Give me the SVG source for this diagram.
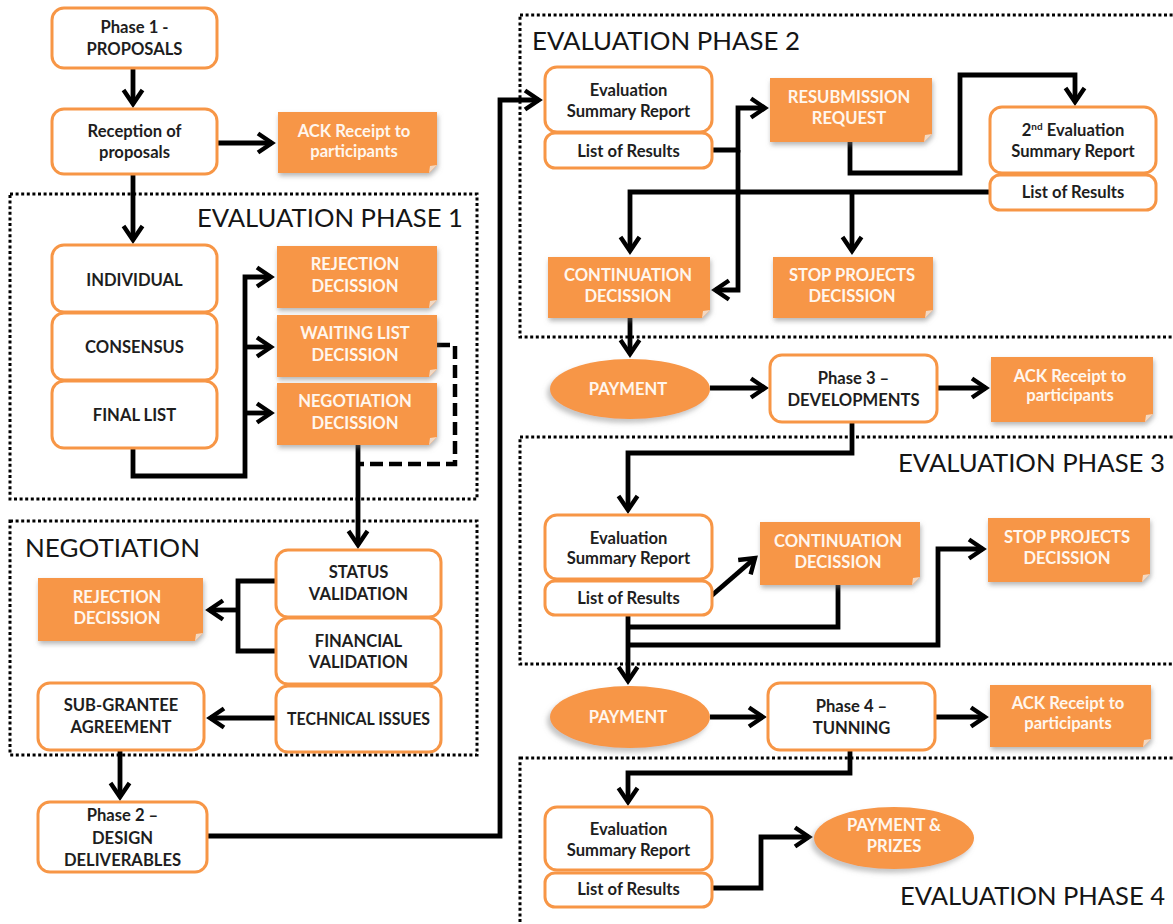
<svg xmlns="http://www.w3.org/2000/svg" width="1173" height="924" viewBox="0 0 1173 924">
<style>
.wb{fill:#fff;stroke:#F79646;stroke-width:3}
.ob{fill:#F79646;filter:url(#sh)}
.el{fill:#F79646;filter:url(#esh)}
.fold{fill:#f2d9c4}
.t{font-family:Lato,'Liberation Sans',sans-serif;font-weight:700;font-size:16.6px;fill:#1e1e1e;text-anchor:middle}
.tw{font-family:Lato,'Liberation Sans',sans-serif;font-weight:700;font-size:16.6px;fill:#fff6ee;text-anchor:middle}
.ttl{font-family:Lato,'Liberation Sans',sans-serif;font-weight:400;font-size:25.6px;fill:#151515}
.c{fill:none;stroke:#000;stroke-width:4.8;stroke-linejoin:miter}
.a{marker-end:url(#ah)}
.dash{fill:none;stroke:#000;stroke-width:4.5;stroke-dasharray:13 6}
.dot{fill:none;stroke:#000;stroke-width:3;stroke-dasharray:3 2.6}
</style>
<defs>
<filter id="sh" x="-10%" y="-15%" width="120%" height="140%">
<feDropShadow dx="1" dy="3" stdDeviation="2.5" flood-color="#7a7a7a" flood-opacity="0.55"/>
</filter>
<filter id="esh" x="-15%" y="-20%" width="130%" height="150%">
<feDropShadow dx="-3" dy="4" stdDeviation="2.5" flood-color="#8a8a8a" flood-opacity="0.5"/>
</filter>
<marker id="ah" viewBox="-20 -14 26 28" refX="0" refY="0" markerWidth="26" markerHeight="28" markerUnits="userSpaceOnUse" orient="auto" overflow="visible">
<path d="M-14,-9.5 L0,0 L-14,9.5" fill="none" stroke="#000" stroke-width="4.4" stroke-linejoin="miter"/>
</marker>
</defs>

<g id="regions">
<rect class="dot" x="10" y="194" width="467" height="305"/>
<rect class="dot" x="10" y="521" width="467" height="234"/>
<rect class="dot" x="520" y="15" width="680" height="322"/>
<rect class="dot" x="520" y="437" width="680" height="227"/>
<rect class="dot" x="520" y="758" width="680" height="200"/>
<text class="ttl" x="197" y="227" textLength="266" lengthAdjust="spacingAndGlyphs">EVALUATION PHASE 1</text>
<text class="ttl" x="25" y="557" textLength="175" lengthAdjust="spacingAndGlyphs">NEGOTIATION</text>
<text class="ttl" x="532" y="50" textLength="268" lengthAdjust="spacingAndGlyphs">EVALUATION PHASE 2</text>
<text class="ttl" x="898" y="472" textLength="267" lengthAdjust="spacingAndGlyphs">EVALUATION PHASE 3</text>
<text class="ttl" x="900" y="905" textLength="265" lengthAdjust="spacingAndGlyphs">EVALUATION PHASE 4</text>
</g>

<g id="connectors">
<path class="c a" d="M133,68 V104"/>
<path class="c a" d="M217,143 H272"/>
<path class="c a" d="M133,174 V240"/>
<path class="c a" d="M133,448 V476 H245 V277 H271"/>
<path class="c a" d="M245,347 H271"/>
<path class="c a" d="M245,413 H271"/>
<path class="dash" d="M437,345 H455 V464 H358"/>
<path class="c a" d="M358,445 V545"/>
<path class="c" d="M276,581 H238 V651 H276"/>
<path class="c a" d="M238,610 H209"/>
<path class="c a" d="M276,718 H210"/>
<path class="c a" d="M120,750 V797"/>
<path class="c a" d="M207,836 H500 V100 H539"/>
<path class="c a" d="M712,150 H738 V108 H765"/>
<path class="c a" d="M738,150 V290 H715"/>
<path class="c a" d="M850,142 V173 H960 V75 H1075 V102"/>
<path class="c a" d="M990,192 H630 V251"/>
<path class="c a" d="M852,192 V251"/>
<path class="c a" d="M630,318 V354"/>
<path class="c a" d="M710,388 H765"/>
<path class="c a" d="M937,388 H986"/>
<path class="c a" d="M852,422 V453 H628 V510"/>
<path class="c a" d="M710,597 L755,558"/>
<path class="c" d="M838,585 V627 H628"/>
<path class="c a" d="M628,615 V681"/>
<path class="c a" d="M628,645 H938 V549 H983"/>
<path class="c a" d="M710,717 H763"/>
<path class="c a" d="M935,717 H985"/>
<path class="c a" d="M850,750 V773 H628 V802"/>
<path class="c a" d="M712,888 H761 V837 H809"/>
</g>

<g id="phase1">
<rect class="wb" x="52" y="8" width="165" height="60" rx="12"/>
<text class="t" x="134.5" y="33">Phase 1 -</text>
<text class="t" x="134.5" y="55">PROPOSALS</text>
</g>
<g id="reception">
<rect class="wb" x="52" y="109" width="165" height="65" rx="12"/>
<text class="t" x="134.5" y="137">Reception of</text>
<text class="t" x="134.5" y="158">proposals</text>
</g>
<g id="ack1">
<path class="ob" d="M278,112 h159 v53 l-8,8 h-151 z"/>
<path class="fold" d="M437,165 l-8,8 l1,-7 z"/>
<text class="tw" x="354" y="137">ACK Receipt to</text>
<text class="tw" x="354" y="157">participants</text>
</g>
<g id="individual">
<rect class="wb" x="52" y="245" width="165" height="67" rx="12"/>
<text class="t" x="134.5" y="286">INDIVIDUAL</text>
</g>
<g id="consensus">
<rect class="wb" x="52" y="313" width="165" height="67" rx="12"/>
<text class="t" x="134.5" y="353">CONSENSUS</text>
</g>
<g id="finallist">
<rect class="wb" x="52" y="381" width="165" height="67" rx="12"/>
<text class="t" x="134.5" y="421">FINAL LIST</text>
</g>
<g id="rejection1">
<path class="ob" d="M277,246 h160 v54 l-8,8 h-152 z"/>
<path class="fold" d="M437,300 l-8,8 l1,-7 z"/>
<text class="tw" x="355" y="270">REJECTION</text>
<text class="tw" x="355" y="292">DECISSION</text>
</g>
<g id="waitinglist">
<path class="ob" d="M277,315 h160 v54 l-8,8 h-152 z"/>
<path class="fold" d="M437,369 l-8,8 l1,-7 z"/>
<text class="tw" x="355" y="339">WAITING LIST</text>
<text class="tw" x="355" y="361">DECISSION</text>
</g>
<g id="negotiationdecision">
<path class="ob" d="M277,383 h160 v54 l-8,8 h-152 z"/>
<path class="fold" d="M437,437 l-8,8 l1,-7 z"/>
<text class="tw" x="355" y="407">NEGOTIATION</text>
<text class="tw" x="355" y="429">DECISSION</text>
</g>
<g id="status">
<rect class="wb" x="276" y="550" width="165" height="67" rx="12"/>
<text class="t" x="358.5" y="578">STATUS</text>
<text class="t" x="358.5" y="600">VALIDATION</text>
</g>
<g id="financial">
<rect class="wb" x="276" y="618" width="165" height="66" rx="12"/>
<text class="t" x="358.5" y="647">FINANCIAL</text>
<text class="t" x="358.5" y="668">VALIDATION</text>
</g>
<g id="technical">
<rect class="wb" x="276" y="686" width="165" height="66" rx="12"/>
<text class="t" x="358.5" y="725" textLength="143" lengthAdjust="spacingAndGlyphs">TECHNICAL ISSUES</text>
</g>
<g id="rejection2">
<path class="ob" d="M38,578 h165 v55 l-8,8 h-157 z"/>
<path class="fold" d="M203,633 l-8,8 l1,-7 z"/>
<text class="tw" x="117" y="603">REJECTION</text>
<text class="tw" x="117" y="624">DECISSION</text>
</g>
<g id="subgrantee">
<rect class="wb" x="38" y="683" width="166" height="67" rx="12"/>
<text class="t" x="121" y="711">SUB-GRANTEE</text>
<text class="t" x="121" y="733">AGREEMENT</text>
</g>
<g id="phase2">
<rect class="wb" x="38" y="802" width="169" height="70" rx="12"/>
<text class="t" x="122.5" y="821">Phase 2 –</text>
<text class="t" x="122.5" y="844">DESIGN</text>
<text class="t" x="122.5" y="866">DELIVERABLES</text>
</g>

<g id="esr2">
<rect class="wb" x="545" y="67" width="167" height="65" rx="12"/>
<rect class="wb" x="545" y="133" width="167" height="35" rx="10"/>
<text class="t" x="628.5" y="96">Evaluation</text>
<text class="t" x="628.5" y="117">Summary Report</text>
<text class="t" x="628.5" y="157">List of Results</text>
</g>
<g id="resubmission">
<path class="ob" d="M770,78 h162 v56 l-8,8 h-154 z"/>
<path class="fold" d="M932,134 l-8,8 l1,-7 z"/>
<text class="tw" x="849" y="103">RESUBMISSION</text>
<text class="tw" x="849" y="124">REQUEST</text>
</g>
<g id="esr2b">
<rect class="wb" x="990" y="107" width="166" height="66" rx="12"/>
<rect class="wb" x="990" y="175" width="166" height="35" rx="10"/>
<text class="t" x="1073" y="136">2<tspan dy="-6" font-size="10">nd</tspan><tspan dy="6"> Evaluation</tspan></text>
<text class="t" x="1073" y="157">Summary Report</text>
<text class="t" x="1073" y="198">List of Results</text>
</g>
<g id="continuation2">
<path class="ob" d="M548,257 h162 v53 l-8,8 h-154 z"/>
<path class="fold" d="M710,310 l-8,8 l1,-7 z"/>
<text class="tw" x="628" y="281">CONTINUATION</text>
<text class="tw" x="628" y="302">DECISSION</text>
</g>
<g id="stop2">
<path class="ob" d="M773,257 h160 v53 l-8,8 h-152 z"/>
<path class="fold" d="M933,310 l-8,8 l1,-7 z"/>
<text class="tw" x="852" y="281">STOP PROJECTS</text>
<text class="tw" x="852" y="302">DECISSION</text>
</g>
<g id="payment1">
<ellipse class="el" cx="630" cy="389" rx="80" ry="30"/>
<text class="tw" x="628" y="395">PAYMENT</text>
</g>
<g id="phase3">
<rect class="wb" x="770" y="355" width="167" height="67" rx="12"/>
<text class="t" x="853.5" y="384">Phase 3 –</text>
<text class="t" x="853.5" y="406">DEVELOPMENTS</text>
</g>
<g id="ack2">
<path class="ob" d="M991,357 h162 v57 l-8,8 h-154 z"/>
<path class="fold" d="M1153,414 l-8,8 l1,-7 z"/>
<text class="tw" x="1070" y="382">ACK Receipt to</text>
<text class="tw" x="1070" y="401">participants</text>
</g>
<g id="esr3">
<rect class="wb" x="545" y="515" width="167" height="64" rx="12"/>
<rect class="wb" x="545" y="581" width="167" height="34" rx="10"/>
<text class="t" x="628.5" y="544">Evaluation</text>
<text class="t" x="628.5" y="564">Summary Report</text>
<text class="t" x="628.5" y="604">List of Results</text>
</g>
<g id="continuation3">
<path class="ob" d="M760,522 h160 v55 l-8,8 h-152 z"/>
<path class="fold" d="M920,577 l-8,8 l1,-7 z"/>
<text class="tw" x="838" y="547">CONTINUATION</text>
<text class="tw" x="838" y="568">DECISSION</text>
</g>
<g id="stop3">
<path class="ob" d="M988,518 h162 v56 l-8,8 h-154 z"/>
<path class="fold" d="M1150,574 l-8,8 l1,-7 z"/>
<text class="tw" x="1067" y="543">STOP PROJECTS</text>
<text class="tw" x="1067" y="564">DECISSION</text>
</g>
<g id="payment2">
<ellipse class="el" cx="630" cy="717" rx="80" ry="31"/>
<text class="tw" x="628" y="723">PAYMENT</text>
</g>
<g id="phase4">
<rect class="wb" x="768" y="683" width="167" height="67" rx="12"/>
<text class="t" x="851.5" y="712">Phase 4 –</text>
<text class="t" x="851.5" y="734">TUNNING</text>
</g>
<g id="ack3">
<path class="ob" d="M990,685 h161 v54 l-8,8 h-153 z"/>
<path class="fold" d="M1151,739 l-8,8 l1,-7 z"/>
<text class="tw" x="1068" y="709">ACK Receipt to</text>
<text class="tw" x="1068" y="729">participants</text>
</g>
<g id="esr4">
<rect class="wb" x="545" y="807" width="167" height="63" rx="12"/>
<rect class="wb" x="545" y="873" width="167" height="34" rx="10"/>
<text class="t" x="628.5" y="835">Evaluation</text>
<text class="t" x="628.5" y="856">Summary Report</text>
<text class="t" x="628.5" y="895">List of Results</text>
</g>
<g id="prizes">
<ellipse class="el" cx="894" cy="838" rx="80" ry="31"/>
<text class="tw" x="894" y="831">PAYMENT &amp;</text>
<text class="tw" x="894" y="852">PRIZES</text>
</g>
</svg>
